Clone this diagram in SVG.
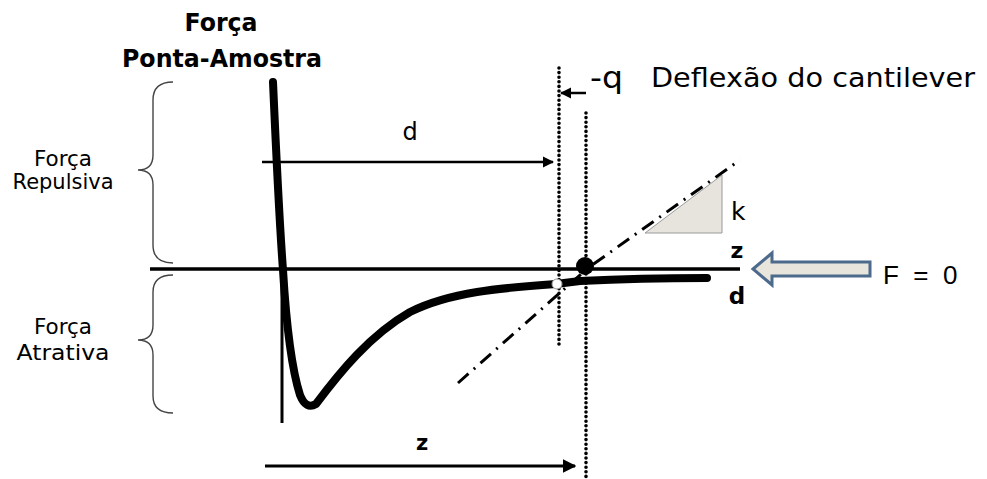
<svg xmlns="http://www.w3.org/2000/svg" width="987" height="479" viewBox="0 0 987 479">
<style>
.t{font-family:"DejaVu Sans","Liberation Sans",sans-serif;fill:#000}
.b{font-weight:bold}
.brace{fill:none;stroke:#444;stroke-width:1.4}
.dot{fill:none;stroke:#000;stroke-width:3.6;stroke-linecap:round;stroke-dasharray:0 4.6}
.ln{fill:none;stroke:#000}
</style>
<defs>
<marker id="ah" viewBox="0 0 10 10" refX="9" refY="5" markerWidth="4.5" markerHeight="4.5" orient="auto" markerUnits="strokeWidth">
<path d="M0,0 L10,5 L0,10 z" fill="#000"/>
</marker>
</defs>
<rect width="987" height="479" fill="#fff"/>
<g id="title">
<text class="t b" x="221" y="31" font-size="24" text-anchor="middle" textLength="73" lengthAdjust="spacingAndGlyphs">Força</text>
<text class="t b" x="222" y="67" font-size="24" text-anchor="middle" textLength="200" lengthAdjust="spacingAndGlyphs">Ponta-Amostra</text>
</g>
<g id="repulsiva">
<path class="brace" d="M173,82 Q153,82 153,100 L153,155 Q153,170 138,170 Q153,170 153,185 L153,245 Q153,263 173,263"/>
<text class="t" x="63" y="166" font-size="21" text-anchor="middle" textLength="58" lengthAdjust="spacingAndGlyphs">Força</text>
<text class="t" x="63" y="189" font-size="21" text-anchor="middle" textLength="101" lengthAdjust="spacingAndGlyphs">Repulsiva</text>
</g>
<g id="atrativa">
<path class="brace" d="M173,275 Q153,275 153,292 L153,325 Q153,340 138,340 Q153,340 153,355 L153,396 Q153,413 173,413"/>
<text class="t" x="63" y="334" font-size="21" text-anchor="middle" textLength="58" lengthAdjust="spacingAndGlyphs">Força</text>
<text class="t" x="63" y="360" font-size="21" text-anchor="middle" textLength="93" lengthAdjust="spacingAndGlyphs">Atrativa</text>
</g>
<g id="axes">
<line class="ln" x1="150" y1="269" x2="740" y2="269" stroke-width="3.5"/>
<line class="ln" x1="282" y1="262" x2="282" y2="423" stroke-width="3"/>
</g>
<g id="dotted-lines">
<line class="dot" x1="559" y1="68" x2="559" y2="345"/>
<line class="dot" x1="586" y1="113" x2="586" y2="478"/>
</g>
<g id="slope">
<polygon points="645,233 722,175 722,233" fill="#e6e4dc" stroke="#9a9a9a" stroke-width="1"/>
<polyline points="458,383 588,268 740,160" fill="none" stroke="#000" stroke-width="3" stroke-dasharray="14 7 2 7"/>
<text class="t" x="731" y="220" font-size="25">k</text>
</g>
<g id="curve">
<path class="ln" stroke-width="8" stroke-linecap="round" stroke-linejoin="round" d="M273,82 C276,150 280,230 283,270 C286,320 292,370 300,395 Q306,410 316,404 C340,372 370,335 410,312 C450,292 500,288 556,284 L580,281 C620,279 660,278 707,278"/>
</g>
<g id="points">
<circle cx="585" cy="266" r="9" fill="#000"/>
<circle cx="557" cy="284" r="5" fill="#fff" stroke="#999" stroke-width="1"/>
</g>
<g id="connectors">
<line class="ln" x1="262" y1="162" x2="553" y2="162" stroke-width="2.5" marker-end="url(#ah)"/>
<line class="ln" x1="265" y1="466" x2="575" y2="466" stroke-width="3" marker-end="url(#ah)"/>
<line class="ln" x1="586" y1="93" x2="561" y2="93" stroke-width="2.5" marker-end="url(#ah)"/>
</g>
<g id="labels">
<text class="t" x="410" y="140" font-size="24" text-anchor="middle">d</text>
<text class="t b" x="422" y="450" font-size="21" text-anchor="middle">z</text>
<text class="t b" x="737" y="258" font-size="22" text-anchor="middle">z</text>
<text class="t b" x="737" y="304" font-size="23" text-anchor="middle">d</text>
<text class="t" x="590" y="88" font-size="31" textLength="33" lengthAdjust="spacingAndGlyphs">-q</text>
<text class="t" x="651" y="87" font-size="27" textLength="324" lengthAdjust="spacingAndGlyphs">Deflexão do cantilever</text>
</g>
<g id="f0">
<path d="M753,269 L772,253 L772,262 L870,262 L870,276 L772,276 L772,285 Z" fill="#e8e6dc" stroke="#4c6a8c" stroke-width="3" stroke-linejoin="miter"/>
<text style="font-family:'Liberation Sans',Arial,sans-serif" x="883" y="284" font-size="26" xml:space="preserve">F  =  0</text>
</g>
</svg>
